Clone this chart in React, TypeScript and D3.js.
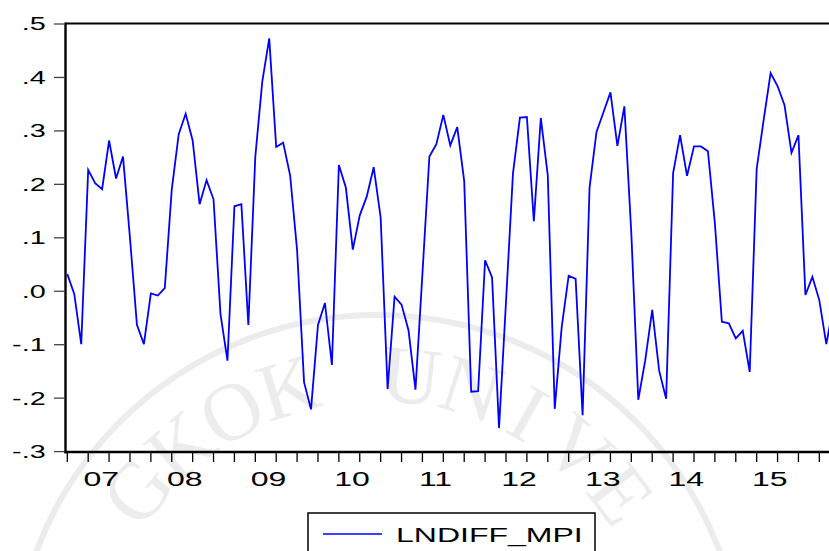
import React from 'react';
import * as d3 from 'd3';

// Monthly series, first observation January 2007
const startYear = 2007;
const lndiffMpi = [
  0.032, -0.005, -0.099, 0.227, 0.202, 0.191, 0.282, 0.211, 0.252, 0.100, -0.063, -0.099,
  -0.004, -0.008, 0.006, 0.190, 0.294, 0.332, 0.282, 0.163, 0.208, 0.172, -0.043, -0.130,
  0.159, 0.163, -0.063, 0.252, 0.392, 0.473, 0.270, 0.278, 0.217, 0.077, -0.170, -0.221,
  -0.063, -0.022, -0.138, 0.236, 0.194, 0.078, 0.142, 0.177, 0.232, 0.138, -0.183, -0.010,
  -0.025, -0.073, -0.184, 0.033, 0.252, 0.275, 0.330, 0.273, 0.307, 0.206, -0.188, -0.187,
  0.058, 0.026, -0.256, -0.020, 0.220, 0.325, 0.326, 0.131, 0.324, 0.217, -0.220, -0.067,
  0.029, 0.023, -0.232, 0.194, 0.298, 0.335, 0.372, 0.272, 0.346, 0.108, -0.203, -0.129,
  -0.035, -0.149, -0.201, 0.221, 0.292, 0.216, 0.271, 0.271, 0.262, 0.127, -0.057, -0.060,
  -0.088, -0.074, -0.151, 0.229, 0.320, 0.408, 0.384, 0.348, 0.259, 0.292, -0.007, 0.027,
  -0.017, -0.099, -0.030,
];
const yearLabels = ['07', '08', '09', '10', '11', '12', '13', '14', '15'];
const yTicks = [0.5, 0.4, 0.3, 0.2, 0.1, 0.0, -0.1, -0.2, -0.3];
const seriesName = 'LNDIFF_MPI';
const sealText = 'BANGKOK UNIVERSITY';

const W = 829;
const H = 551;
const STRETCH = 1.6; // horizontal text stretch of the exported graph
const FONT = 'Liberation Sans, Arial, sans-serif';

const frameLeft = 65.5;
const frameTop = 23.5;
const frameBottom = 452;
const frameRight = 898;
const monthsShown = 120; // Jan 2007 .. Dec 2016

const fmtTick = (v: number) => {
  const n = Math.round(Math.abs(v) * 10);
  return (v < 0 ? '-' : '') + '.' + n;
};

export default function App() {
  const x = d3.scaleLinear().domain([0, 12]).range([67.3, 67.3 + 83.56]);
  const y = d3.scaleLinear().domain([-0.3, 0.5]).range([451.6, 24.0]);

  const line = d3
    .line<number>()
    .x((_, i) => x(i))
    .y((d) => y(d));

  const monthTicks = d3.range(0, monthsShown + 1, 3);

  // seal watermark geometry
  const cx = 378;
  const cy = 680;
  const ringR = 365;
  const letterR = 306;
  const letterStep = 11.6;
  const letterAngle = (i: number) => -40.2 + (i - 4) * letterStep;
  const letterPos = (i: number) => {
    const a = (letterAngle(i) * Math.PI) / 180;
    return { lx: cx + letterR * Math.sin(a), ly: cy - letterR * Math.cos(a) };
  };
  const sealLetters = sealText
    .split('')
    .map((ch, i) => ({ ch, i, ...letterPos(i) }))
    .filter((d) => d.ch !== ' ' && d.ly < H - 40 && d.lx > 30 && d.lx < W - 30);

  return (
    <svg
      width={W}
      height={H}
      style={{ position: 'absolute', left: 0, top: 0, background: '#fff' }}
    >
      <rect x={0} y={0} width={W} height={H} fill="#fff" />

      {/* university seal watermark */}
      <g fill="#ececec" stroke="none">
        <circle cx={cx} cy={cy} r={ringR} fill="none" stroke="#ececec" strokeWidth={6} />
        {sealLetters.map((d) => (
          <text
            key={d.i}
            x={cx}
            y={cy - letterR}
            transform={`rotate(${letterAngle(d.i)},${cx},${cy})`}
            textAnchor="middle"
            dominantBaseline="central"
            fontFamily="Liberation Serif, Times New Roman, serif"
            fontSize={82}
          >
            {d.ch}
          </text>
        ))}
      </g>

      {/* series */}
      <path d={line(lndiffMpi) || ''} fill="none" stroke="#0000ff" strokeWidth={1.8} strokeLinejoin="miter" />

      {/* frame */}
      <line x1={frameLeft} x2={frameRight} y1={frameTop} y2={frameTop} stroke="#000" strokeWidth={2.2} />
      <line x1={frameLeft} x2={frameLeft} y1={frameTop - 1.1} y2={frameBottom + 1.2} stroke="#000" strokeWidth={2.4} />
      <line x1={frameLeft - 1.2} x2={frameRight} y1={frameBottom} y2={frameBottom} stroke="#000" strokeWidth={2.4} />

      {/* y axis */}
      {yTicks.map((v) => (
        <g key={v}>
          <line x1={54} x2={frameLeft - 1} y1={y(v)} y2={y(v)} stroke="#444" strokeWidth={1.3} />
          <text
            transform={`translate(45.7,${y(v)}) scale(${STRETCH},1)`}
            textAnchor="end"
            dominantBaseline="central"
            fontFamily={FONT}
            fontSize={18}
            fill="#000"
          >
            {fmtTick(v)}
          </text>
        </g>
      ))}

      {/* x axis */}
      {monthTicks.map((m) => (
        <line
          key={m}
          x1={x(m)}
          x2={x(m)}
          y1={frameBottom + 1}
          y2={frameBottom + 10}
          stroke="#000"
          strokeWidth={1.3}
        />
      ))}
      {yearLabels.map((lab, k) => (
        <text
          key={lab}
          transform={`translate(${x(k * 12) + 34},${486}) scale(${STRETCH},1)`}
          textAnchor="middle"
          fontFamily={FONT}
          fontSize={20}
          fill="#000"
        >
          {lab}
        </text>
      ))}

      {/* legend */}
      <rect x={308} y={513} width={287} height={60} fill="none" stroke="#000" strokeWidth={1.5} />
      <line x1={323} x2={382} y1={534} y2={534} stroke="#0000ff" strokeWidth={1.5} />
      <text
        transform={`translate(396,542) scale(${STRETCH},1)`}
        fontFamily={FONT}
        fontSize={20}
        fill="#000"
      >
        {seriesName}
      </text>
    </svg>
  );
}
